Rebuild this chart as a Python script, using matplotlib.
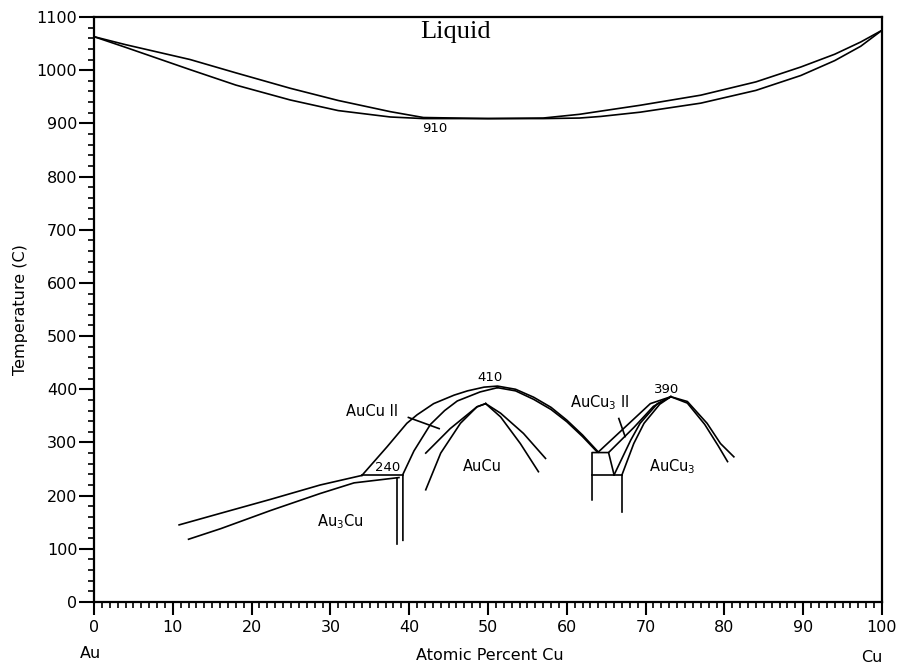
import numpy as np
import matplotlib
matplotlib.use("Agg")
import matplotlib.pyplot as plt
from matplotlib.ticker import MultipleLocator

# liquidus / solidus
liquidus_x = [0, 4, 12.2, 18, 24.9, 31, 37.6, 41.8, 50, 57, 61.6, 64.3, 69.3, 77, 84, 89.7, 94, 97.3, 100]
liquidus_t = [1063, 1048, 1020, 995, 966, 943, 922, 911, 909, 910, 917, 923, 934, 953, 978, 1006, 1030, 1053, 1075]
solidus_x = [0, 4, 12.2, 18, 24.9, 31, 37.6, 41.8, 57, 61.6, 64.3, 69.3, 77, 84, 89.7, 94, 97.3, 100]
solidus_t = [1063, 1043, 1001, 972, 944, 924, 912, 909, 909, 910, 913, 921, 938, 962, 990, 1018, 1045, 1075]

# Au3Cu field
au3cu_upper_x = [10.8, 16.1, 22.4, 28.7, 34]
au3cu_upper_t = [145, 167, 193, 220, 238]
au3cu_lower_x = [12.0, 16.1, 22.4, 28.7, 33, 38.7]
au3cu_lower_t = [118, 138, 172, 204, 224, 234]
iso240_x = [34, 39.2]
iso240_t = [238, 238]
vert_left_x = [38.5, 38.5]
vert_left_t = [234, 110]

# AuCu II / AuCu
aucu2_inner_x = [39.2, 39.2, 40.6, 42.7, 44.5, 46.1, 49, 51.2]
aucu2_inner_t = [116, 240, 284, 334, 360, 378, 395, 403]
dome410_x = [34, 37.2, 39.7, 41, 43.1, 45.7, 47.4, 49.5, 51.2, 53.5, 55.8, 58, 60, 62, 64.0]
dome410_t = [238, 292, 336, 352, 373, 389, 397, 404, 406, 400, 385, 366, 342, 314, 282]
dome410_in_x = [51.2, 53.5, 55.8, 58, 60, 62, 63.8]
dome410_in_t = [403, 397, 381, 362, 339, 311, 283]
aucu_a_x = [42.1, 45.2, 48.6, 49.7]
aucu_a_t = [280, 326, 367, 373]
aucu_b_x = [42.1, 44, 46.5, 48.6, 49.7]
aucu_b_t = [211, 280, 336, 367, 373]
aucu_c_x = [49.7, 51.6, 54.5, 57.3]
aucu_c_t = [373, 355, 317, 270]
aucu_d_x = [49.7, 51.6, 54.1, 56.4]
aucu_d_t = [373, 348, 298, 245]
ptr_aucu2_x = [39.9, 43.8]
ptr_aucu2_t = [347, 326]

# AuCu3 II / AuCu3
box_x = [63.2, 63.2, 65.3, 66.0]
box_t = [192, 281, 281, 239]
box_bottom_x = [63.2, 67.0]
box_bottom_t = [239, 239]
vert_right_x = [67.0, 67.0]
vert_right_t = [239, 170]
e_x = [64.0, 67.7, 70.6, 73.2]
e_t = [282, 333, 373, 386]
f_x = [65.3, 68.5, 71, 73.2]
f_t = [281, 328, 368, 386]
g_x = [66.0, 68.1, 69.3, 71.5, 73.2]
g_t = [239, 304, 336, 373, 386]
h_x = [67.0, 68.5, 69.8, 71.8, 73.2]
h_t = [239, 298, 336, 372, 386]
dome390_r1_x = [73.2, 75.3, 77.8, 79.5, 81.2]
dome390_r1_t = [386, 377, 336, 298, 273]
dome390_r2_x = [73.2, 75.3, 77.5, 79.2, 80.4]
dome390_r2_t = [386, 374, 334, 294, 264]
ptr_aucu3_x = [66.6, 67.4]
ptr_aucu3_t = [345, 311]

curves = [
    (liquidus_x, liquidus_t), (solidus_x, solidus_t),
    (au3cu_upper_x, au3cu_upper_t), (au3cu_lower_x, au3cu_lower_t),
    (iso240_x, iso240_t), (vert_left_x, vert_left_t),
    (aucu2_inner_x, aucu2_inner_t), (dome410_x, dome410_t), (dome410_in_x, dome410_in_t),
    (aucu_a_x, aucu_a_t), (aucu_b_x, aucu_b_t), (aucu_c_x, aucu_c_t), (aucu_d_x, aucu_d_t),
    (ptr_aucu2_x, ptr_aucu2_t),
    (box_x, box_t), (box_bottom_x, box_bottom_t), (vert_right_x, vert_right_t),
    (e_x, e_t), (f_x, f_t), (g_x, g_t), (h_x, h_t),
    (dome390_r1_x, dome390_r1_t), (dome390_r2_x, dome390_r2_t),
    (ptr_aucu3_x, ptr_aucu3_t),
]

# labels inside the plot: text, x, T, size, family
labels = [
    ("Liquid", 45.9, 1071, 19, "Liberation Serif"),
    ("910", 43.3, 891, 9.5, "DejaVu Sans"),
    ("410", 50.3, 423, 9.5, "DejaVu Sans"),
    ("390", 72.7, 399, 9.5, "DejaVu Sans"),
    ("240", 37.2, 252, 9.5, "DejaVu Sans"),
    ("AuCu II", 35.3, 358, 10.5, "DejaVu Sans"),
    ("AuCu", 49.3, 254, 10.5, "DejaVu Sans"),
    (r"Au$_3$Cu", 31.3, 151, 10.5, "DejaVu Sans"),
    (r"AuCu$_3$ II", 64.2, 374, 10.5, "DejaVu Sans"),
    (r"AuCu$_3$", 73.4, 254, 10.5, "DejaVu Sans"),
]

plt.rcParams['mathtext.default'] = 'regular'

fig = plt.figure(figsize=(9, 6.65), dpi=100)
ax = fig.add_axes([94 / 900, 63 / 665, 788 / 900, 585 / 665])

for xs, ts in curves:
    ax.plot(xs, ts, color='black', lw=1.2)

for txt, x, t, size, fam in labels:
    ax.text(x, t, txt, fontsize=size, family=fam, ha='center', va='center')

ax.set_xlim(0, 100)
ax.set_ylim(0, 1100)
ax.xaxis.set_major_locator(MultipleLocator(10))
ax.xaxis.set_minor_locator(MultipleLocator(1))
ax.yaxis.set_major_locator(MultipleLocator(100))
ax.yaxis.set_minor_locator(MultipleLocator(20))
ax.tick_params(axis='x', which='major', length=9, width=1.5, pad=4, labelsize=11.5)
ax.tick_params(axis='x', which='minor', length=4, width=1.2)
ax.tick_params(axis='y', which='major', length=11, width=1.5, pad=1, labelsize=11.5)
ax.tick_params(axis='y', which='minor', length=4, width=1.2)
for s in ax.spines.values():
    s.set_linewidth(1.6)

ax.set_ylabel("Temperature (C)", fontsize=11.5, labelpad=6)
fig.text(490 / 900, 1 - 655 / 665, "Atomic Percent Cu", fontsize=11.5, ha='center', va='center')
fig.text(90 / 900, 1 - 653 / 665, "Au", fontsize=11.5, ha='center', va='center')
fig.text(872 / 900, 1 - 657 / 665, "Cu", fontsize=11.5, ha='center', va='center')

fig.savefig("out.png", dpi=100)
